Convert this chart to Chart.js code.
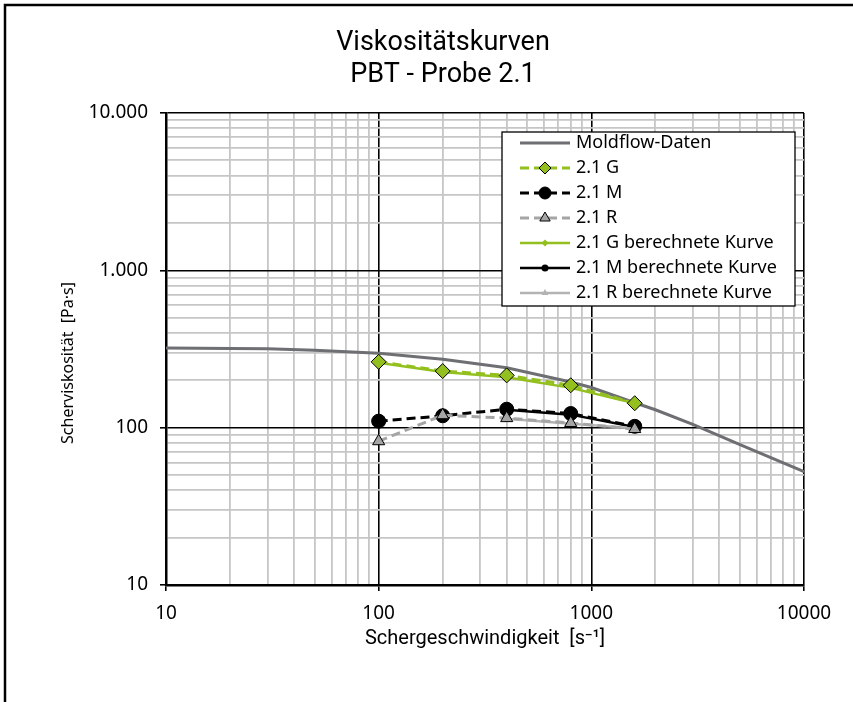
<!DOCTYPE html>
<html lang="de">
<head>
<meta charset="utf-8">
<title>Viskositätskurven PBT - Probe 2.1</title>
<script src="https://cdn.jsdelivr.net/npm/chart.js@4/dist/chart.umd.min.js"></script>
<style>
  html, body { margin: 0; padding: 0; background: #fff; }
  #wrap { width: 853px; height: 702px; }
</style>
</head>
<body>
<div id="wrap"><canvas id="c" width="853" height="702"></canvas></div>
<script>
// Titles
const chartTitle = ['Viskositätskurven', 'PBT - Probe 2.1'];
const xAxisTitle = 'Schergeschwindigkeit  [s\u207B\u00B9]';
const yAxisTitle = 'Scherviskosität  [Pa\u00B7s]';

// Decade tick labels (one per power of ten, starting at 10)
const xTickLabels = ['10', '100', '1000', '10000'];
const yTickLabels = ['10', '100', '1.000', '10.000'];

// Moldflow material data: shear rate [1/s] and viscosity [Pa·s]
const moldflowRates = [10, 20, 30, 50, 100, 200, 400, 800, 1000, 1600, 2000, 3000, 5000, 10000];
const moldflowVisc  = [321, 319, 317, 311, 297, 272, 240, 195, 180, 144, 130, 105, 78, 52.5];

// Measured shear rates of sample 2.1
const shearRates = [100, 200, 400, 800, 1600];

// Measured viscosities
const visc21G = [262, 229, 215, 186, 143];
const visc21M = [110, 119, 131, 123, 102];
const visc21R = [82, 120, 115, 107, 98];

// Calculated curves
const calc21G = [259, 226, 209, 179, 143];
const calc21M = [null, null, 130, 121, 101];
const calc21R = [null, null, 114, 106, 99];

const pts = (xs, ys) => xs.map((x, i) => ({ x: x, y: ys[i] }));

const GREEN = '#93c01f';
const GREY_DARK = '#6e6f73';
const GREY = '#a5a5a5';

const datasets = [
  { label: 'Moldflow-Daten', data: pts(moldflowRates, moldflowVisc),
    borderColor: GREY_DARK, borderWidth: 3, pointRadius: 0, order: 9 },
  { label: '2.1 G', data: pts(shearRates, visc21G),
    borderColor: GREEN, borderWidth: 3, borderDash: [9, 5],
    pointStyle: 'rectRot', pointRadius: 7.5, pointBackgroundColor: GREEN,
    pointBorderColor: '#000', pointBorderWidth: 1, order: 3 },
  { label: '2.1 M', data: pts(shearRates, visc21M),
    borderColor: '#000', borderWidth: 3, borderDash: [9, 5],
    pointStyle: 'circle', pointRadius: 7, pointBackgroundColor: '#000',
    pointBorderColor: '#000', pointBorderWidth: 1, order: 2 },
  { label: '2.1 R', data: pts(shearRates, visc21R),
    borderColor: GREY, borderWidth: 3, borderDash: [9, 5],
    pointStyle: 'triangle', pointRadius: 7, pointBackgroundColor: GREY,
    pointBorderColor: '#000', pointBorderWidth: 1, order: 1 },
  { label: '2.1 G berechnete Kurve', data: pts(shearRates, calc21G),
    borderColor: GREEN, borderWidth: 2.5,
    pointStyle: 'rectRot', pointRadius: 4, pointBackgroundColor: GREEN,
    pointBorderColor: GREEN, pointBorderWidth: 0, order: 6 },
  { label: '2.1 M berechnete Kurve', data: pts(shearRates, calc21M),
    borderColor: '#000', borderWidth: 2.5,
    pointStyle: 'circle', pointRadius: 4, pointBackgroundColor: '#000',
    pointBorderColor: '#000', pointBorderWidth: 0, order: 5 },
  { label: '2.1 R berechnete Kurve', data: pts(shearRates, calc21R),
    borderColor: '#b3b3b3', borderWidth: 2.5,
    pointStyle: 'triangle', pointRadius: 4.5, pointBackgroundColor: '#b3b3b3',
    pointBorderColor: '#b3b3b3', pointBorderWidth: 0, order: 4 }
];
datasets.forEach(d => { d.showLine = true; d.fill = false; d.tension = 0; d.spanGaps = false; });

const isDecade = v => Math.abs(Math.log10(v) - Math.round(Math.log10(v))) < 1e-9;

// 1..9 per decade, so every minor grid line is drawn
function decadeTicks(scale) {
  const ticks = [];
  for (let d = scale.min; d < scale.max - 1e-9; d *= 10) {
    for (let k = 1; k < 10; k++) ticks.push({ value: d * k });
  }
  ticks.push({ value: scale.max });
  scale.ticks = ticks;
}

const gridStyle = {
  color: c => (c.tick && isDecade(c.tick.value)) ? '#000' : '#c6c6c6',
  lineWidth: c => (c.tick && isDecade(c.tick.value)) ? 1.6 : 1.8,
  tickColor: c => (c.tick && isDecade(c.tick.value)) ? '#000' : 'rgba(0,0,0,0)',
  tickWidth: 1.6,
  tickLength: 6,
  drawOnChartArea: true
};

const FONT_TEXT = '"Noto Sans", "Open Sans", sans-serif';
const FONT_COND = 'Roboto, "Noto Sans", sans-serif';

// Frame, main title, y-axis title and the legend box
const decor = {
  id: 'decor',
  beforeDraw(chart) {
    const ctx = chart.ctx;
    ctx.save();
    ctx.strokeStyle = '#000';
    ctx.lineWidth = 2.5;
    ctx.beginPath();
    ctx.moveTo(5, chart.height);
    ctx.lineTo(5, 5);
    ctx.lineTo(chart.width, 5);
    ctx.stroke();
    ctx.restore();
  },
  afterDraw(chart) {
    const ctx = chart.ctx;
    const area = chart.chartArea;
    ctx.save();
    // main title
    ctx.fillStyle = '#000';
    ctx.font = '27px ' + FONT_COND;
    ctx.textAlign = 'center';
    ctx.textBaseline = 'middle';
    ctx.fillText(chartTitle[0], 443, 43);
    ctx.fillText(chartTitle[1], 443, 75);

    // y-axis title
    ctx.save();
    ctx.translate(68, 363);
    ctx.rotate(-Math.PI / 2);
    ctx.font = '16px ' + FONT_TEXT;
    ctx.fillText(yAxisTitle, 0, 0);
    ctx.restore();

    // legend
    const bx = area.right - 302, by = area.top + 19, bw = 293, bh = 174;
    ctx.fillStyle = '#fff';
    ctx.fillRect(bx, by, bw, bh);
    ctx.strokeStyle = '#000';
    ctx.lineWidth = 1.3;
    ctx.strokeRect(bx, by, bw, bh);
    ctx.font = '18px ' + FONT_TEXT;
    ctx.textAlign = 'left';
    ctx.textBaseline = 'middle';
    datasets.forEach((ds, i) => {
      const y = by + 11 + i * 25;
      const x0 = bx + 18, x1 = bx + 68, xm = bx + 43;
      ctx.save();
      ctx.strokeStyle = ds.borderColor;
      ctx.lineWidth = ds.borderWidth;
      ctx.setLineDash(ds.borderDash || []);
      ctx.beginPath();
      ctx.moveTo(x0, y);
      ctx.lineTo(x1, y);
      ctx.stroke();
      ctx.setLineDash([]);
      if (ds.pointRadius > 0) {
        ctx.fillStyle = ds.pointBackgroundColor;
        ctx.strokeStyle = ds.pointBorderColor;
        ctx.lineWidth = ds.pointBorderWidth;
        const r = ds.pointRadius > 5 ? 6 : ds.pointRadius - 0.5;
        Chart.helpers.drawPoint(ctx, {
          pointStyle: ds.pointStyle, radius: r, rotation: 0,
          borderWidth: ds.pointBorderWidth
        }, xm, y);
      }
      ctx.restore();
      ctx.fillStyle = '#000';
      ctx.fillText(ds.label, bx + 74, y);
    });
    ctx.restore();
  }
};

new Chart(document.getElementById('c'), {
  type: 'scatter',
  data: { datasets: datasets },
  plugins: [decor],
  options: {
    responsive: false,
    animation: false,
    events: [],
    layout: { padding: { left: 20, right: 49, top: 113, bottom: 51 } },
    plugins: { legend: { display: false }, title: { display: false }, tooltip: { enabled: false } },
    scales: {
      x: {
        type: 'logarithmic', min: 10, max: 10000,
        afterBuildTicks: decadeTicks,
        afterFit: s => { s.height = 66; },
        grid: gridStyle,
        border: { color: '#000', width: 2.5 },
        ticks: {
          autoSkip: false, maxRotation: 0, padding: 11, color: '#000',
          font: { family: FONT_TEXT, size: 19 },
          callback: v => isDecade(v) ? xTickLabels[Math.round(Math.log10(v)) - 1] : ''
        },
        title: { display: true, text: xAxisTitle, color: '#000',
          font: { family: FONT_COND, size: 20 }, padding: { top: 0, bottom: 0 } }
      },
      y: {
        type: 'logarithmic', min: 10, max: 10000,
        afterBuildTicks: decadeTicks,
        afterFit: s => { s.width = 146; },
        grid: gridStyle,
        border: { color: '#000', width: 2.5 },
        ticks: {
          autoSkip: false, padding: 12, color: '#000',
          font: { family: FONT_TEXT, size: 19 },
          callback: v => isDecade(v) ? yTickLabels[Math.round(Math.log10(v)) - 1] : ''
        }
      }
    }
  }
});
</script>
</body>
</html>
